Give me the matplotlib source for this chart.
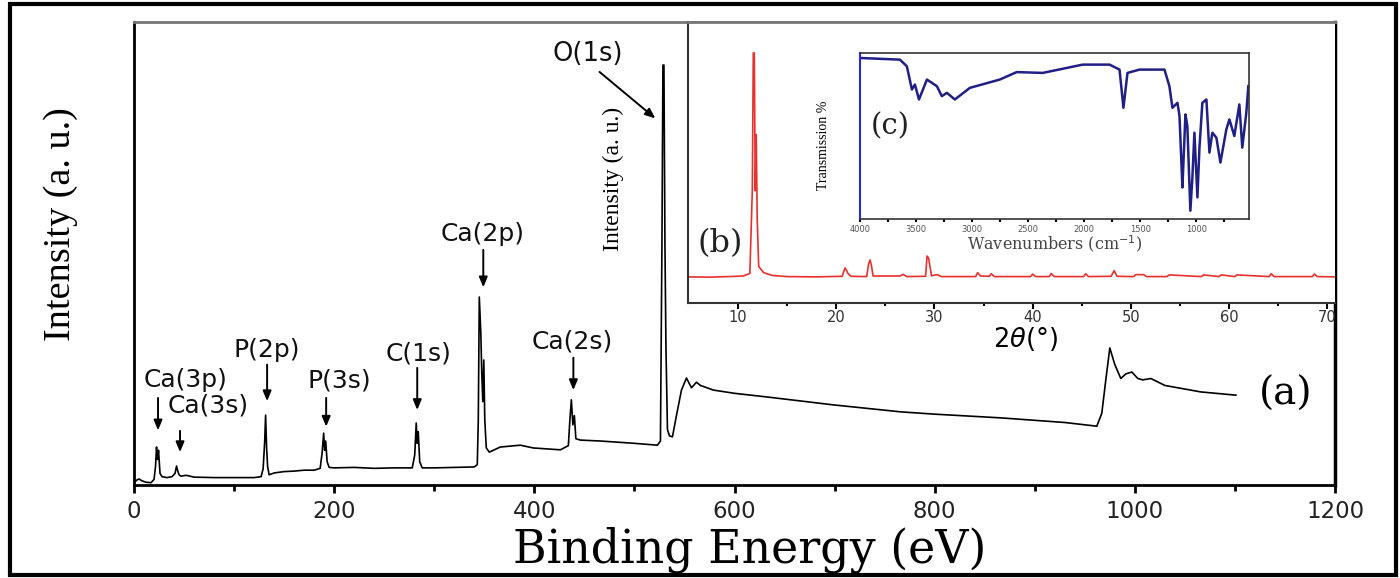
import matplotlib
matplotlib.use("Agg")
import matplotlib.pyplot as plt
from matplotlib.patches import Rectangle

# XPS survey (a)
xps_energy = [0, 3, 5, 8, 12, 17, 20, 21.5, 22.5, 23.5, 24.5, 26, 28, 33, 38, 41, 42.5, 43.5, 45, 47, 52, 60,
              80, 100, 120, 127, 129, 130.5, 131.5, 132.5, 133.5, 135, 140, 150, 160, 170, 180, 186,
              188, 189.5, 190.5, 191.5, 193, 195, 200, 220, 240, 260, 278, 280.5, 282, 283, 284, 285.5,
              288, 300, 320, 340, 343, 344, 345, 346.5, 347.5, 348.5, 349.5, 350.5, 352, 355, 366, 386,
              399, 426, 434, 435.5, 437, 438.5, 440, 441.5, 446, 466, 500, 523, 526, 527.5, 528.5, 529.5,
              530.5, 531.5, 533, 535, 538, 542, 547, 552, 557, 562, 566, 579, 600, 633, 699, 766, 800, 866,
              930, 962, 967, 971, 975, 980, 986, 991, 997, 1003, 1008, 1016, 1030, 1066, 1101]
xps_intensity = [0.5, 1.1, 1.3, 0.9, 0.6, 0.5, 1.2, 4.0, 8.2, 5.5, 7.5, 2.5, 1.8, 1.6, 1.8, 2.5, 4.1, 3.2, 2.2,
                 1.9, 2.1, 1.7, 1.6, 1.6, 1.6, 1.8, 3.5, 9.0, 15.1, 8.0, 4.0, 2.2, 2.6, 2.9, 3.0, 3.2, 3.2,
                 3.6, 7.0, 11.2, 7.5, 9.5, 5.0, 3.8, 3.7, 3.8, 3.6, 3.7, 3.7, 6.5, 13.4, 9.0, 11.5, 5.0,
                 3.7, 3.7, 3.8, 3.9, 4.4, 14.0, 40.6, 33.0, 24.0, 18.0, 27.0, 14.0, 8.0, 7.1, 8.2, 8.6,
                 8.0, 7.6, 8.5, 14.0, 18.4, 13.0, 15.0, 10.0, 9.7, 9.5, 9.0, 8.6, 9.5, 52.0, 90.7, 90.7,
                 52.0, 30.0, 12.0, 10.6, 10.4, 15.0, 20.5, 23.1, 21.0, 22.2, 21.5, 20.5, 19.8, 19.0, 17.3,
                 15.8, 15.3, 14.5, 13.5, 12.7, 15.5, 22.7, 29.6, 26.0, 23.0, 24.0, 24.4, 23.0, 22.7, 23.0,
                 21.5, 20.1, 19.4]

# XRD pattern (b)
xrd_2theta = [4.9, 7, 9, 10.5, 11.2, 11.45, 11.55, 11.65, 11.75, 11.85, 11.95, 12.1, 12.6, 13.5, 15, 18,
              20.6, 20.9, 21.2, 21.5, 23.1, 23.3, 23.45, 23.6, 23.75, 26.5, 26.8, 27.2, 29.1, 29.25, 29.4,
              29.55, 29.7, 30.3, 30.7, 34.2, 34.4, 34.7, 35.6, 35.8, 36.1, 39.8, 40.0, 40.3, 41.7, 41.9,
              42.2, 45.2, 45.4, 45.7, 48.0, 48.3, 48.6, 50.3, 50.5, 51.3, 51.6, 53.7, 53.9, 57.2, 57.4,
              59.0, 59.2, 60.6, 60.8, 64.1, 64.3, 64.6, 68.5, 68.7, 69.0, 70.8]
xrd_intensity = [9.3, 9.2, 9.4, 9.6, 10.5, 40, 89, 89, 40, 60, 30, 13, 10.8, 9.8, 9.4, 9.3,
                 9.5, 12.5, 10.5, 9.5, 9.4, 14, 15.3, 13, 9.6, 9.6, 10.2, 9.4, 9.5, 16.7, 16,
                 13, 9.7, 10.1, 9.4, 9.4, 10.8, 9.6, 9.5, 10.4, 9.4, 9.4, 10.3, 9.4, 9.4, 10.5,
                 9.4, 9.4, 10.4, 9.4, 9.5, 11.5, 9.5, 9.4, 10.1, 10.1, 9.4, 9.4, 10.0, 9.4, 10.0,
                 9.4, 10.0, 9.4, 10.0, 9.4, 10.4, 9.4, 9.4, 10.3, 9.4, 9.3]

# FTIR spectrum (c)
ir_wavenumber = [4000, 3644, 3582, 3537, 3510, 3474, 3403, 3314, 3270, 3225, 3154, 3020, 2753, 2602, 2370,
                 2014, 1774, 1685, 1650, 1614, 1507, 1284, 1240, 1213, 1168, 1150, 1133, 1124, 1097, 1080,
                 1053, 1035, 1017, 990, 972, 946, 910, 883, 857, 821, 785, 732, 705, 661, 616, 590, 554, 536]
ir_transmission = [97, 96, 92, 78, 81, 72, 84, 80, 74, 76, 72, 79, 84, 88.5, 88,
                   93, 93, 90, 67, 88, 90, 90, 80, 67, 70, 62, 34, 19, 63, 56,
                   5, 25, 52, 13, 43, 70, 72, 40, 52, 49, 34, 54, 60, 50, 69, 43, 64, 80]

# peak labels: (text, text x, text y, arrow x, arrow start y, arrow tip y)
peak_labels = [
    ("Ca(3p)", 52, 22.6, 24, 19.4, 11.2),
    ("Ca(3s)", 74, 17.2, 46, 12.3, 6.5),
    ("P(2p)", 133, 29.2, 133, 26.6, 17.5),
    ("P(3s)", 205, 22.5, 192, 19.4, 12.0),
    ("C(1s)", 284, 28.5, 283, 25.9, 15.6),
    ("Ca(2p)", 348, 54.2, 349, 51.4, 42.1),
    ("Ca(2s)", 438, 30.9, 439, 28.1, 19.9),
]

W, H = 1400, 578


def px_axes(fig, x0, x1, y0, y1):
    return fig.add_axes([x0 / W, 1 - y1 / H, (x1 - x0) / W, (y1 - y0) / H])


fig = plt.figure(figsize=(14, 5.78), dpi=100)

# main XPS axes
ax = px_axes(fig, 134, 1335, 22, 485)
ax.plot(xps_energy, xps_intensity, color="black", lw=1.2)
ax.set_xlim(0, 1200)
ax.set_ylim(0, 100)
ax.set_xticks(range(0, 1201, 200))
ax.set_xticks(range(100, 1200, 200), minor=True)
ax.set_yticks([])
ax.tick_params(axis="x", which="major", direction="out", length=6, width=2, labelsize=16.5,
               pad=5, labelcolor="#222222")
ax.tick_params(axis="x", which="minor", direction="out", length=4, width=2)
for s in ("left", "bottom"):
    ax.spines[s].set_linewidth(2)
ax.spines["right"].set_linewidth(2.5)
ax.spines["top"].set_color("#777777")
ax.spines["top"].set_linewidth(2)
ax.set_xlabel("Binding Energy (eV)", fontfamily="DejaVu Serif", fontsize=33, va="center")
ax.xaxis.set_label_coords(0.513, -0.14)
ax.set_ylabel("Intensity (a. u.)", fontfamily="Liberation Serif", fontsize=27.5, va="center")
ax.yaxis.set_label_coords(-0.061, 0.564)

arrow_kw = dict(arrowstyle="-|>,head_length=0.6,head_width=0.25", color="black", lw=1.4)
for text, tx, ty, axx, ay0, ay1 in peak_labels:
    ax.text(tx, ty, text, fontsize=18, ha="center", va="center", color="#111111")
    ax.annotate("", xy=(axx, ay1), xytext=(axx, ay0), arrowprops=arrow_kw)
ax.text(453, 93.1, "O(1s)", fontsize=18.5, ha="center", va="center", color="#111111")
ax.annotate("", xy=(523, 78.8), xytext=(463, 89.6), arrowprops=arrow_kw)
ax.text(1151, 19.5, "(a)", fontfamily="DejaVu Serif", fontsize=28, ha="center", va="center")

# inset (b): XRD
axb = px_axes(fig, 688, 1335, 22, 303)
axb.plot(xrd_2theta, xrd_intensity, color="#e8302c", lw=1.2)
axb.set_xlim(4.9, 70.8)
axb.set_ylim(0, 100)
axb.set_xticks(range(10, 71, 10))
axb.set_xticks(range(15, 70, 10), minor=True)
axb.set_yticks([])
axb.tick_params(axis="x", which="major", direction="out", length=4, width=1.5, labelsize=10.5,
                pad=1, labelcolor="#333333")
axb.tick_params(axis="x", which="minor", direction="out", length=2.5, width=1.5)
axb.spines["right"].set_visible(False)
axb.spines["top"].set_color("#777777")
axb.spines["top"].set_linewidth(2)
for s in ("left", "bottom"):
    axb.spines[s].set_linewidth(1.5)
    axb.spines[s].set_color("#333333")
axb.set_xlabel(r"$2\theta$(°)", fontsize=18.5, va="center")
axb.xaxis.set_label_coords(0.521, -0.128)
axb.set_ylabel("Intensity (a. u.)", fontfamily="Liberation Serif", fontsize=17, va="center")
axb.yaxis.set_label_coords(-0.116, 0.44)
axb.text(0.05, 0.21, "(b)", transform=axb.transAxes, fontfamily="DejaVu Serif", fontsize=23,
         ha="center", va="center", color="#222222")

# inset (c): FTIR
axc = px_axes(fig, 860, 1249, 53, 219)
axc.plot(ir_wavenumber, ir_transmission, color="#1f1f86", lw=1.8)
axc.set_xlim(4000, 530)
axc.set_ylim(0, 100)
axc.set_xticks(range(4000, 999, -500))
axc.set_xticks(range(3750, 600, -500), minor=True)
axc.set_yticks([])
axc.tick_params(axis="x", which="both", direction="out", length=2.5, width=1.5, labelsize=6,
                pad=2, labelcolor="#555555")
for s in ("top", "right", "bottom"):
    axc.spines[s].set_color("#333333")
    axc.spines[s].set_linewidth(1.2)
axc.spines["left"].set_color("#2a2ad0")
axc.spines["left"].set_linewidth(1.5)
axc.set_xlabel("Wavenumbers (cm$^{-1}$)", fontfamily="DejaVu Serif", fontsize=11.5,
               va="center", color="#444444")
axc.xaxis.set_label_coords(0.501, -0.145)
axc.set_ylabel("Transmission %", fontfamily="Liberation Serif", fontsize=10, va="center")
axc.yaxis.set_label_coords(-0.095, 0.446)
axc.text(0.078, 0.56, "(c)", transform=axc.transAxes, fontfamily="DejaVu Serif", fontsize=21,
         ha="center", va="center", color="#222222")

# outer frame round the whole picture
fig.add_artist(Rectangle((10 / W, 3 / H), 1386 / W, 571 / H, transform=fig.transFigure,
                         fill=False, lw=3, edgecolor="black"))

fig.savefig("out.png", dpi=100)
